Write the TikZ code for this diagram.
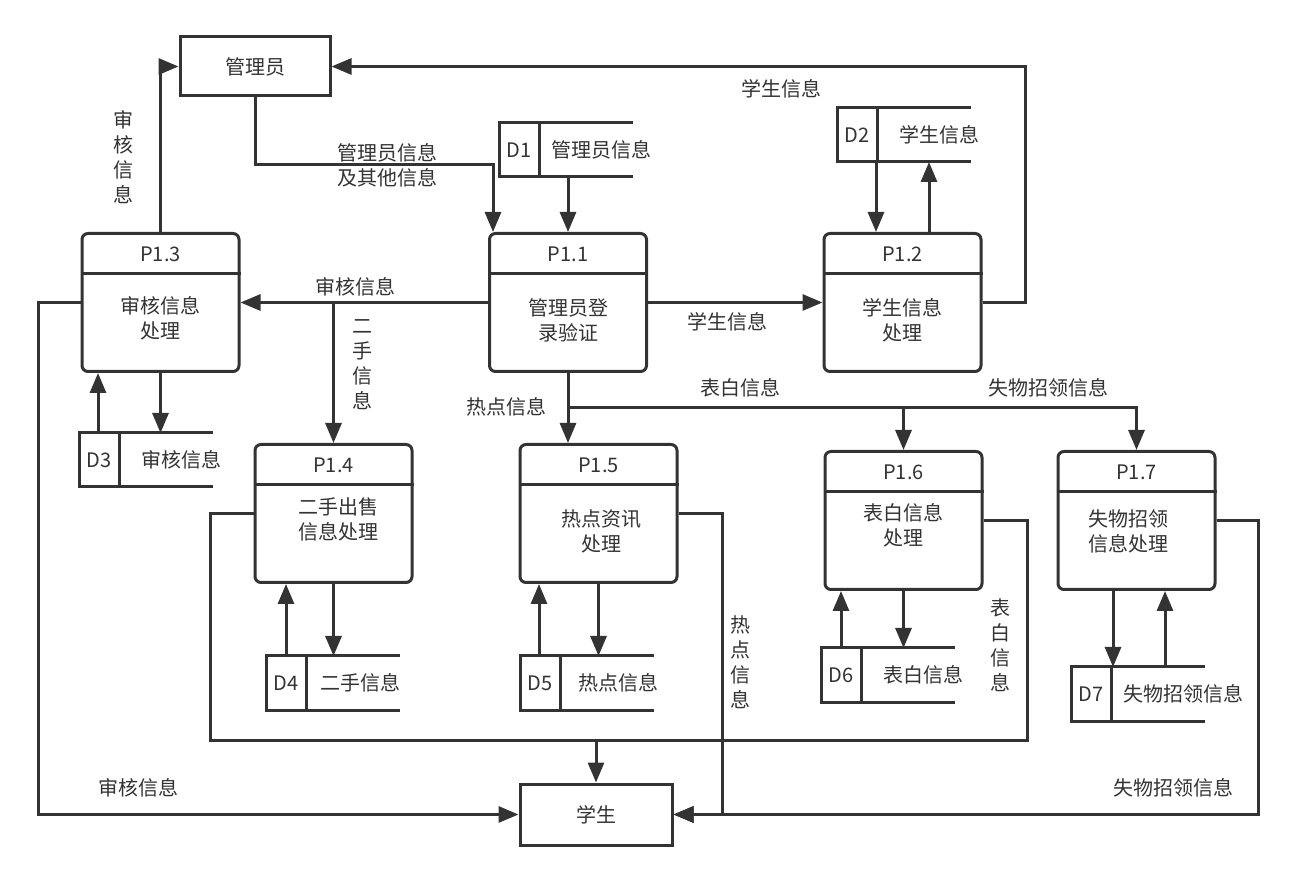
\documentclass[tikz,border=0pt]{standalone}
\usepackage{fontspec}
\newfontfamily\cjk{Noto Sans CJK SC}
\usepackage{tikz}
\usetikzlibrary{arrows.meta, positioning, calc}
\usepackage{xcolor}
\definecolor{Ink}{HTML}{333333}

\tikzset{
  wire/.style={draw=Ink, line width=1.5pt},
  flow/.style={wire, -{Triangle[length=10pt, width=8pt]}},
  txt/.style={text=Ink, font=\cjk\fontsize{10}{12.5}\selectfont, align=center, inner sep=0pt},
  ent/.style={wire, txt, minimum width=75pt, minimum height=29.5pt},
  proc/.style={wire, rounded corners=3pt, minimum width=78.5pt, minimum height=69pt, inner sep=0pt},
  store/.style={minimum width=67pt, minimum height=27pt, inner sep=0pt, outer sep=0pt},
}

% process: name, centre x, top y, title, body, body offset
\newcommand{\procbox}[6]{%
  \node[proc, anchor=north] (#1) at (#2,#3) {};
  \draw[wire] ([yshift=-21pt]#1.north west) -- ([yshift=-21pt]#1.north east);
  \node[txt] (#1t) at ([yshift=-11pt]#1.north) {#4};
  \node[txt] (#1b) at ($(#1.north)+(#6)$) {#5};
}
% data store: [text offset] name, left x, top y, id, text
\newcommand{\datastore}[6][51pt]{%
  \node[store, anchor=north west] (#2) at (#3,#4) {};
  \draw[wire] (#2.north east) -- (#2.north west) -- (#2.south west) -- (#2.south east);
  \draw[wire] ([xshift=20pt]#2.north west) -- ([xshift=20pt]#2.south west);
  \node[txt] (#2i) at ([xshift=10pt]#2.west) {#5};
  \node[txt] (#2t) at ([xshift=#1]#2.west) {#6};
}

\begin{document}
\begin{tikzpicture}[x=0.5pt, y=-0.5pt]
  \useasboundingbox[fill=white] (0,0) rectangle (1296,881);

  % outside entities
  \node[ent] (admin) at (255,66.5) {管理员};
  \node[ent, minimum width=76pt, minimum height=30.5pt] (stu) at (596,814.5) {学生};

  % processes
  \procbox{p11}{568}{232}{P1.1}{管理员登\\录验证}{0,88}
  \procbox{p12}{902.5}{232}{P1.2}{学生信息\\处理}{0,88}
  \procbox{p13}{160.5}{232}{P1.3}{审核信息\\处理}{0,86}
  \procbox{p14}{333.5}{443}{P1.4}{二手出售\\信息处理}{5,76}
  \procbox{p15}{598.5}{443}{P1.5}{热点资讯\\处理}{3,88}
  \procbox{p16}{903.5}{450}{P1.6}{表白信息\\处理}{0,75}
  \procbox{p17}{1136.5}{450}{P1.7}{失物招领\\信息处理}{-8,81}

  % data stores
  \datastore{d1}{499}{123}{D1}{管理员信息}
  \datastore{d2}{837}{108}{D2}{学生信息}
  \datastore{d3}{79}{433}{D3}{审核信息}
  \datastore[47pt]{d4}{266}{656}{D4}{二手信息}
  \datastore[49pt]{d5}{520}{656}{D5}{热点信息}
  \datastore{d6}{821}{648}{D6}{表白信息}
  \datastore[56pt]{d7}{1071}{667}{D7}{失物招领信息}

  % bends
  \coordinate (k1) at (493,165);
  \coordinate (k2) at (1025,0);
  \coordinate (k3) at (38,0);
  \coordinate (k4) at (568,408);
  \coordinate (k5) at (210,740);
  \coordinate (k6) at (1027,740);
  \coordinate (k7) at (722,0);
  \coordinate (k8) at (1258,0);

  % flows
  \draw[flow] (admin.south) |- (k1) -- (k1 |- p11.north);
  \draw[flow] (d1.south -| p11.north) -- (p11.north);
  \draw[flow] (p11.east) -- (p12.west);
  \draw[flow] (876,0 |- d2.south) -- (876,0 |- p12.north);
  \draw[flow] (929,0 |- p12.north) -- (929,0 |- d2.south);
  \draw[flow] (p12.east) -| (k2 |- admin.east) -- (admin.east);
  \draw[flow] (p11.west) -- (p13.east);
  \draw[flow] (p14.north |- p11.west) -- (p14.north);
  \draw[flow] (p13.north) |- (admin.west);
  \draw[flow] (98,0 |- d3.north) -- (98,0 |- p13.south);
  \draw[flow] (p13.south) -- (p13.south |- d3.north);
  \draw[flow] (p13.west) -| (k3 |- stu.west) -- (stu.west);
  \draw[flow] (286,0 |- d4.north) -- (286,0 |- p14.south);
  \draw[flow] (p14.south) -- (p14.south |- d4.north);
  \draw[flow] (p11.south) -- (p11.south |- p15.north);
  \draw[flow] (k4) -| (p16.north);
  \draw[flow] (k4) -| (p17.north);
  \draw[flow] (539,0 |- d5.north) -- (539,0 |- p15.south);
  \draw[flow] (p15.south) -- (p15.south |- d5.north);
  \draw[flow] (p15.east) -| (k7 |- stu.east) -- (stu.east);
  \draw[wire] (p14.west) -| (k5) -- (k6) |- (p16.east);
  \draw[flow] (stu.north |- k5) -- (stu.north);
  \draw[flow] (841,0 |- d6.north) -- (841,0 |- p16.south);
  \draw[flow] (p16.south) -- (p16.south |- d6.north);
  \draw[flow] (1113,0 |- p17.south) -- (1113,0 |- d7.north);
  \draw[flow] (1165,0 |- d7.north) -- (1165,0 |- p17.south);
  \draw[flow] (p17.east) -| (k8 |- stu.east) -- (stu.east);

  % flow labels
  \node[txt] (l1) at (123,157) {审\\核\\信\\息};
  \node[txt] (l2) at (387,165) {管理员信息\\及其他信息};
  \node[txt] (l3) at (781,89) {学生信息};
  \node[txt] (l4) at (727,322) {学生信息};
  \node[txt] (l5) at (355,287) {审核信息};
  \node[txt] (l6) at (362,365) {二\\手\\信\\息};
  \node[txt] (l7) at (506,407) {热点信息};
  \node[txt] (l8) at (740,388) {表白信息};
  \node[txt] (l9) at (1048,388) {失物招领信息};
  \node[txt] (l10) at (740,662) {热\\点\\信\\息};
  \node[txt] (l11) at (1000,645) {表\\白\\信\\息};
  \node[txt] (l12) at (138,788) {审核信息};
  \node[txt] (l13) at (1173,788) {失物招领信息};
\end{tikzpicture}
\end{document}
